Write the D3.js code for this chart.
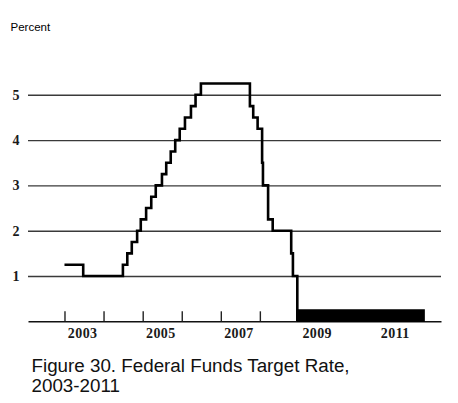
<!DOCTYPE html>
<html>
<head>
<meta charset="utf-8">
<script src="https://cdn.jsdelivr.net/npm/d3@7"></script>
<style>
  body { margin: 0; background: #fff; }
  svg { display: block; }
  .tick text { font-family: "Liberation Serif", "DejaVu Serif", serif; font-weight: bold; font-size: 14px; fill: #1a1a1a; letter-spacing: 0.4px; }
</style>
</head>
<body>
<svg id="chart" width="458" height="403"></svg>
<script>
// target rate changes (step series)
const rateDates = ["2003-01-01", "2003-06-25", "2004-06-30", "2004-08-10", "2004-09-21", "2004-11-10",
    "2004-12-14", "2005-02-02", "2005-03-22", "2005-05-03", "2005-06-30", "2005-08-09", "2005-09-20",
    "2005-11-01", "2005-12-13", "2006-01-31", "2006-03-28", "2006-05-10", "2006-06-29", "2007-09-30",
    "2007-10-31", "2007-12-11", "2008-01-22", "2008-01-30", "2008-03-18", "2008-04-30", "2008-10-20",
    "2008-11-05", "2008-12-16"];
const rateValues = [1.25, 1.00, 1.25, 1.50, 1.75, 2.00, 2.25, 2.50, 2.75, 3.00, 3.25, 3.50, 3.75,
    4.00, 4.25, 4.50, 4.75, 5.00, 5.25, 4.75, 4.50, 4.25, 3.50, 3.00, 2.25, 2.00, 1.50, 1.00, 0];

// 0 - 0.25 target range
const bandDates = ["2008-12-20", "2012-03-15"];
const bandLow = [0, 0];
const bandHigh = [0.25, 0.25];

const yTicks = [1, 2, 3, 4, 5];
const tickYears = [2003, 2004, 2005, 2006, 2007, 2008, 2009, 2010, 2011, 2012];
const labelYears = [2003, 2005, 2007, 2009, 2011];

const parse = d3.timeParse("%Y-%m-%d");
const svg = d3.select('#chart');

const left = 28, right = 441, bottom = 321.3;

const x = d3.scaleTime()
    .domain([parse("2002-01-25"), parse("2012-08-20")])
    .range([left, right]);

const y = d3.scaleLinear()
    .domain([0, 5])
    .range([bottom, bottom - 5 * 45.3]);

// y gridlines + labels
svg.append('g')
    .attr('transform', `translate(${left},0)`)
    .call(d3.axisLeft(y)
        .tickValues(yTicks)
        .tickFormat(d3.format('d'))
        .tickSizeInner(-(right - left))
        .tickSizeOuter(0)
        .tickPadding(8))
    .call(g => g.select('.domain').remove())
    .call(g => g.selectAll('.tick line').attr('stroke', '#3a3a3a').attr('stroke-width', 1.4));

// x axis ticks at year boundaries
svg.append('g')
    .attr('transform', `translate(0,${bottom})`)
    .call(d3.axisBottom(x)
        .tickValues(tickYears.map(yr => new Date(yr, 0, 1)))
        .tickFormat('')
        .tickSizeInner(-10)
        .tickSizeOuter(0))
    .call(g => g.select('.domain').attr('stroke', '#111').attr('stroke-width', 1.6))
    .call(g => g.selectAll('.tick line').attr('stroke', '#222').attr('stroke-width', 1.4));

// year labels centred in the year
svg.append('g')
    .attr('transform', `translate(0,${bottom})`)
    .call(d3.axisBottom(x)
        .tickValues(labelYears.map(yr => new Date(yr, 5, 15)))
        .tickFormat(d3.timeFormat('%Y'))
        .tickSize(0)
        .tickPadding(7))
    .call(g => g.select('.domain').remove());

// near-zero band
const band = bandDates.map((d, i) => ({date: parse(d), lo: bandLow[i], hi: bandHigh[i]}));
svg.append('path')
    .datum(band)
    .attr('fill', '#000')
    .attr('stroke', '#000')
    .attr('stroke-width', 1.5)
    .attr('d', d3.area()
        .x(d => x(d.date))
        .y0(d => y(d.lo))
        .y1(d => y(d.hi)));

// rate line
const rates = rateDates.map((d, i) => ({date: parse(d), value: rateValues[i]}));
svg.append('path')
    .datum(rates)
    .attr('fill', 'none')
    .attr('stroke', '#000')
    .attr('stroke-width', 2.6)
    .attr('d', d3.line()
        .curve(d3.curveStepAfter)
        .x(d => x(d.date))
        .y(d => y(d.value)));

svg.append('text')
    .attr('x', 10.5)
    .attr('y', 30.5)
    .attr('font-family', 'Arial, "Liberation Sans", sans-serif')
    .attr('font-size', 11.5)
    .text('Percent');

const caption = svg.append('text')
    .attr('font-family', 'Arial, "Liberation Sans", sans-serif')
    .attr('font-size', 18.8)
    .attr('fill', '#111');
caption.append('tspan').attr('x', 31.5).attr('y', 371.5).text('Figure 30. Federal Funds Target Rate,');
caption.append('tspan').attr('x', 31.5).attr('y', 391.5).text('2003-2011');
</script>
</body>
</html>
